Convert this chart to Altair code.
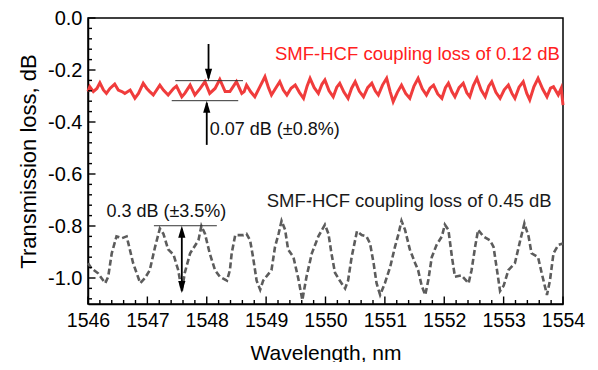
import altair as alt
import pandas as pd

# ---------------- data ----------------
red_wl = [1546.00, 1546.03, 1546.09, 1546.15, 1546.20, 1546.26, 1546.31, 1546.37, 1546.45, 1546.51,
          1546.57, 1546.62, 1546.71, 1546.79, 1546.85, 1546.93, 1546.99, 1547.04, 1547.10, 1547.21,
          1547.27, 1547.35, 1547.44, 1547.49, 1547.58, 1547.63, 1547.72, 1547.80, 1547.89, 1547.97,
          1548.05, 1548.14, 1548.22, 1548.31, 1548.39, 1548.50, 1548.59, 1548.63, 1548.67, 1548.74,
          1548.81, 1548.90, 1548.98, 1549.04, 1549.09, 1549.16, 1549.23, 1549.29, 1549.35, 1549.42,
          1549.49, 1549.56, 1549.63, 1549.69, 1549.74, 1549.81, 1549.88, 1549.94, 1549.99, 1550.06,
          1550.13, 1550.19, 1550.24, 1550.31, 1550.38, 1550.44, 1550.50, 1550.57, 1550.64, 1550.71,
          1550.78, 1550.84, 1550.89, 1550.96, 1551.03, 1551.09, 1551.14, 1551.21, 1551.28, 1551.35,
          1551.42, 1551.49, 1551.56, 1551.63, 1551.70, 1551.76, 1551.82, 1551.89, 1551.96, 1552.02,
          1552.07, 1552.13, 1552.18, 1552.25, 1552.32, 1552.38, 1552.43, 1552.49, 1552.55, 1552.62,
          1552.69, 1552.75, 1552.80, 1552.87, 1552.94, 1553.01, 1553.08, 1553.14, 1553.19, 1553.26,
          1553.33, 1553.39, 1553.44, 1553.51, 1553.58, 1553.66, 1553.73, 1553.79, 1553.84, 1553.92,
          1553.97, 1554.00]
red_loss = [-0.283, -0.264, -0.283, -0.271, -0.249, -0.277, -0.290, -0.271, -0.254, -0.277,
            -0.283, -0.290, -0.277, -0.309, -0.290, -0.251, -0.271, -0.283, -0.296, -0.258,
            -0.277, -0.296, -0.271, -0.262, -0.303, -0.290, -0.258, -0.296, -0.271, -0.245,
            -0.290, -0.271, -0.236, -0.283, -0.283, -0.245, -0.290, -0.283, -0.258, -0.284,
            -0.303, -0.262, -0.226, -0.268, -0.296, -0.270, -0.245, -0.277, -0.296, -0.270,
            -0.258, -0.286, -0.309, -0.262, -0.232, -0.268, -0.290, -0.255, -0.238, -0.280,
            -0.303, -0.266, -0.251, -0.285, -0.309, -0.270, -0.245, -0.282, -0.303, -0.268,
            -0.251, -0.281, -0.296, -0.258, -0.232, -0.284, -0.322, -0.286, -0.258, -0.290,
            -0.309, -0.262, -0.232, -0.272, -0.296, -0.270, -0.258, -0.292, -0.309, -0.268,
            -0.251, -0.284, -0.303, -0.268, -0.251, -0.288, -0.303, -0.260, -0.232, -0.276,
            -0.303, -0.262, -0.245, -0.286, -0.309, -0.276, -0.258, -0.290, -0.309, -0.266,
            -0.245, -0.290, -0.315, -0.265, -0.232, -0.274, -0.303, -0.270, -0.264, -0.296,
            -0.270, -0.335]

gray_wl = [1546.00, 1546.06, 1546.17, 1546.29, 1546.34, 1546.40, 1546.48, 1546.57, 1546.65, 1546.68,
           1546.76, 1546.88, 1546.96, 1547.04, 1547.13, 1547.21, 1547.27, 1547.35, 1547.44, 1547.52,
           1547.58, 1547.63, 1547.72, 1547.86, 1547.91, 1547.97, 1548.05, 1548.14, 1548.22, 1548.34,
           1548.39, 1548.42, 1548.48, 1548.62, 1548.67, 1548.73, 1548.78, 1548.84, 1548.90, 1548.95,
           1549.09, 1549.15, 1549.21, 1549.26, 1549.32, 1549.37, 1549.46, 1549.54, 1549.61, 1549.68,
           1549.77, 1549.88, 1549.99, 1550.05, 1550.10, 1550.16, 1550.24, 1550.33, 1550.38, 1550.44,
           1550.53, 1550.61, 1550.69, 1550.75, 1550.81, 1550.86, 1550.92, 1551.00, 1551.09, 1551.17,
           1551.23, 1551.28, 1551.34, 1551.42, 1551.51, 1551.56, 1551.62, 1551.68, 1551.73, 1551.79,
           1551.87, 1551.96, 1552.01, 1552.07, 1552.13, 1552.18, 1552.29, 1552.41, 1552.46, 1552.52,
           1552.57, 1552.66, 1552.77, 1552.83, 1552.88, 1552.94, 1553.00, 1553.08, 1553.19, 1553.28,
           1553.35, 1553.42, 1553.47, 1553.58, 1553.64, 1553.73, 1553.78, 1553.84, 1553.92, 1554.00]
gray_loss = [-0.943, -0.963, -0.982, -1.020, -0.995, -0.905, -0.840, -0.847, -0.840, -0.867,
             -0.943, -1.020, -1.000, -0.970, -0.880, -0.810, -0.830, -0.890, -0.910, -0.970,
             -1.050, -0.980, -0.905, -0.855, -0.800, -0.830, -0.905, -0.970, -0.995, -1.010,
             -0.970, -0.905, -0.835, -0.835, -0.830, -0.855, -0.920, -1.010, -1.045, -1.010,
             -0.970, -0.880, -0.830, -0.780, -0.815, -0.890, -0.920, -1.000, -1.085, -0.995,
             -0.905, -0.840, -0.795, -0.830, -0.905, -0.980, -1.010, -1.040, -1.010, -0.920,
             -0.820, -0.835, -0.840, -0.867, -0.943, -1.020, -1.065, -1.020, -0.957, -0.880,
             -0.830, -0.780, -0.815, -0.890, -0.943, -0.970, -1.030, -1.065, -1.010, -0.920,
             -0.873, -0.840, -0.795, -0.815, -0.920, -0.995, -0.990, -1.020, -0.970, -0.880,
             -0.815, -0.840, -0.855, -0.880, -0.957, -1.050, -1.030, -0.970, -0.943, -0.855,
             -0.790, -0.840, -0.905, -0.920, -0.980, -1.065, -1.010, -0.905, -0.873, -0.867]

x_major = [1546, 1547, 1548, 1549, 1550, 1551, 1552, 1553, 1554]
y_major = [0.0, -0.2, -0.4, -0.6, -0.8, -1.0]
x_minor = [round(1546 + 0.2 * i, 2) for i in range(41) if i % 5 != 0]
y_minor = [round(-0.04 * i, 2) for i in range(28) if i % 5 != 0]

# annotation values
bracket_wl = [1547.47, 1547.41, 1547.11]
bracket_wl2 = [1548.61, 1548.53, 1548.17]
bracket_loss = [-0.241, -0.318, -0.799]

shaft_wl = [1548.03, 1548.00, 1547.58]
shaft_from = [-0.100, -0.488, -0.812]
shaft_to = [-0.232, -0.327, -1.046]

down_tip_wl = [1548.03, 1547.58]
down_tip_loss = [-0.241, -1.058]
up_tip_wl = [1548.00, 1547.58]
up_tip_loss = [-0.318, -0.799]

FONT = "Liberation Sans, Arial, sans-serif"
W, H = 475, 286
XMIN, XMAX, YMIN, YMAX = 1546, 1554, -1.1, 0.0
PX_X = (XMAX - XMIN) / W   # data units per pixel
PX_Y = (YMAX - YMIN) / H

X = alt.Scale(domain=[XMIN, XMAX], nice=False, zero=False)
Y = alt.Scale(domain=[YMIN, YMAX], nice=False, zero=False)

xenc = alt.X("wl:Q", scale=X, axis=alt.Axis(
    values=x_major, format="d", ticks=False, tickSize=0, grid=False, labelOverlap=False,
    labelFlush=False,
    labelFont=FONT, labelFontSize=19.5, labelColor="black", labelPadding=7,
    title="Wavelength, nm", titleFont=FONT, titleFontSize=21, titleFontWeight="normal",
    titleColor="black", titleY=55, titleBaseline="alphabetic",
    domainColor="black", domainWidth=1.5))
yenc = alt.Y("loss:Q", scale=Y, axis=alt.Axis(
    values=y_major, ticks=False, tickSize=0, grid=False, labelOverlap=False, labelFlush=False,
    labelExpr="datum.value == 0 ? '0.0' : '-' + format(abs(datum.value), '.1f')",
    labelFont=FONT, labelFontSize=20, labelColor="black", labelPadding=6,
    title="Transmission loss, dB", titleFont=FONT, titleFontSize=22, titleFontWeight="normal",
    titleColor="black", titleX=-53, titleY=143, titleAngle=270, titleAlign="center",
    titleBaseline="alphabetic", domainColor="black", domainWidth=1.5))

red = alt.Chart(pd.DataFrame({"wl": red_wl, "loss": red_loss})).mark_line(
    color="#f03c3c", strokeWidth=3).encode(x=xenc, y=yenc)
gray = alt.Chart(pd.DataFrame({"wl": gray_wl, "loss": gray_loss})).mark_line(
    color="#5c5c5c", strokeWidth=2.6, strokeDash=[6, 3]).encode(x=xenc, y=yenc)

# inward ticks
def xticks(vals, length):
    df = pd.DataFrame({"wl": vals, "loss": [YMIN] * len(vals), "loss2": [YMIN + length * PX_Y] * len(vals)})
    return alt.Chart(df).mark_rule(color="black", strokeWidth=1.4).encode(x=xenc, y=yenc, y2=alt.Y2("loss2"))

def yticks(vals, length):
    df = pd.DataFrame({"loss": vals, "wl": [XMIN] * len(vals), "wl2": [XMIN + length * PX_X] * len(vals)})
    return alt.Chart(df).mark_rule(color="black", strokeWidth=1.4).encode(y=yenc, x=xenc, x2=alt.X2("wl2"))

ticks = [xticks(x_major, 7.5), xticks(x_minor, 4), yticks(y_major, 7.5), yticks(y_minor, 4)]

brackets = alt.Chart(pd.DataFrame({"wl": bracket_wl, "wl2": bracket_wl2, "loss": bracket_loss})).mark_rule(
    color="#333333", strokeWidth=1).encode(x=xenc, x2=alt.X2("wl2"), y=yenc)
shafts = alt.Chart(pd.DataFrame({"wl": shaft_wl, "loss": shaft_from, "loss2": shaft_to})).mark_rule(
    color="black", strokeWidth=1.8).encode(x=xenc, y=yenc, y2=alt.Y2("loss2"))
down_heads = alt.Chart(pd.DataFrame({"wl": down_tip_wl, "loss": down_tip_loss})).mark_point(
    shape="M0,0L-0.6,-2L0.6,-2Z", size=144, filled=True, color="black", opacity=1, strokeWidth=0
).encode(x=xenc, y=yenc)
up_heads = alt.Chart(pd.DataFrame({"wl": up_tip_wl, "loss": up_tip_loss})).mark_point(
    shape="M0,0L-0.6,2L0.6,2Z", size=144, filled=True, color="black", opacity=1, strokeWidth=0
).encode(x=xenc, y=yenc)

labels = pd.DataFrame({
    "wl": [1549.15, 1549.01, 1548.05, 1546.31],
    "loss": [-0.162, -0.726, -0.450, -0.764],
    "txt": ["SMF-HCF coupling loss of 0.12 dB", "SMF-HCF coupling loss of 0.45 dB",
            "0.07 dB (\u00b10.8%)", "0.3 dB (\u00b13.5%)"],
    "col": ["#ff2020", "#1a1a1a", "#111111", "#111111"],
    "fs": [18.5, 18.5, 18, 18],
})
texts = alt.Chart(labels).mark_text(align="left", baseline="alphabetic", font=FONT).encode(
    x=xenc, y=yenc, text="txt:N", color=alt.Color("col:N", scale=None),
    size=alt.Size("fs:Q", scale=None))

chart = alt.layer(red, gray, *ticks, brackets, shafts, down_heads, up_heads, texts).properties(
    width=W, height=H, autosize="none",
    padding={"left": 80, "top": 10, "right": 27, "bottom": 58},
).configure_view(stroke="black", strokeWidth=1.5)

chart.save("out.html", embed_options={"renderer": "svg", "actions": False})
